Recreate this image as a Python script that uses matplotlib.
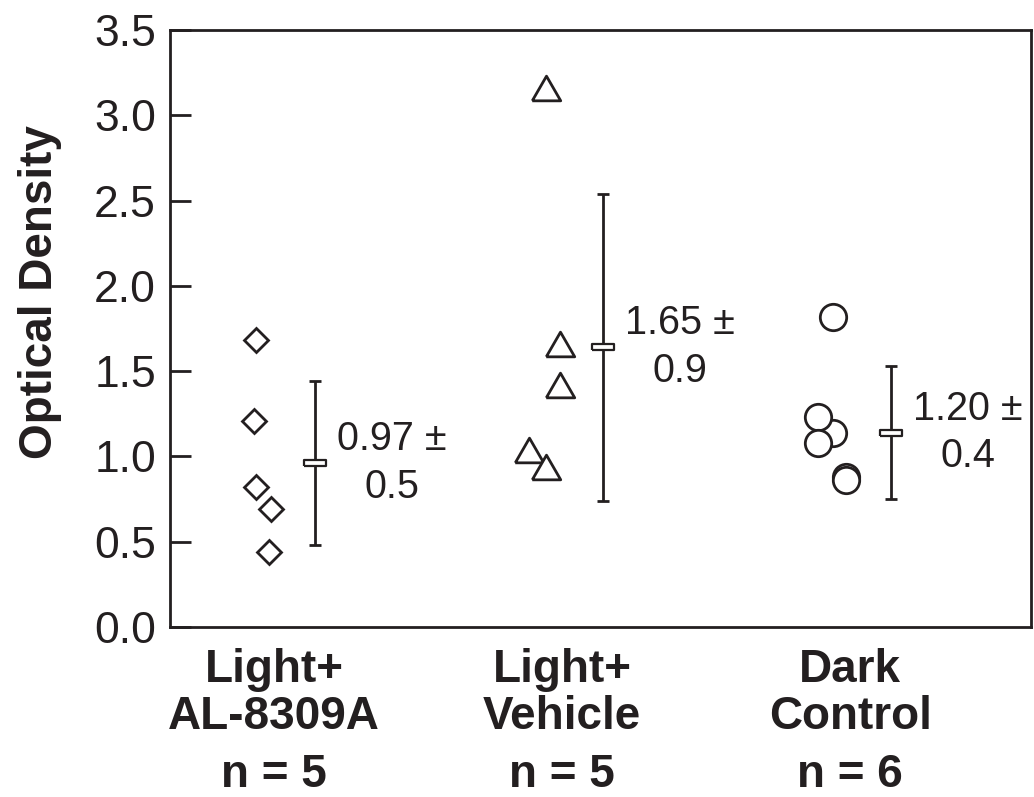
import matplotlib
matplotlib.use('Agg')
import matplotlib.pyplot as plt
import matplotlib.transforms as mtransforms

plt.rcParams['font.family'] = ['Liberation Sans', 'DejaVu Sans']
INK = '#231f20'

# groups along the x axis
groups = ['Light+\nAL-8309A', 'Light+\nVehicle', 'Dark\nControl']
group_n = ['n = 5', 'n = 5', 'n = 6']

# individual optical density readings
al_values = [1.68, 1.21, 0.82, 0.69, 0.44]
vehicle_values = [3.16, 1.66, 1.42, 1.04, 0.94]
dark_values = [1.14, 1.82, 1.23, 1.08, 0.88, 0.86]

# small sideways shift of each point so overlapping ones stay visible
al_jitter = [-0.063, -0.069, -0.063, -0.010, -0.017]
vehicle_jitter = [-0.056, -0.007, -0.007, -0.115, -0.056]
dark_jitter = [-0.059, -0.059, -0.111, -0.111, -0.014, -0.014]

# mean +/- SD as drawn, and the printed values
means = [0.96, 1.64, 1.14]
errs = [0.48, 0.90, 0.39]
mean_labels = ['0.97 ±\n0.5', '1.65 ±\n0.9', '1.20 ±\n0.4']

values = [al_values, vehicle_values, dark_values]
jitters = [al_jitter, vehicle_jitter, dark_jitter]

tri = [(-1, -0.866), (1, -0.866), (0, 0.866), (-1, -0.866)]
markers = [('D', 12), (tri, 20.5), ('o', 19)]
bar_marker = [(-1, -0.28), (1, -0.28), (1, 0.28), (-1, 0.28), (-1, -0.28)]

fig = plt.figure(figsize=(10.34, 7.97), dpi=100)
ax = fig.add_axes([0.1644, 0.2133, 0.8327, 0.7491])

for i in range(len(groups)):
    xc = i + 1
    mk, ms = markers[i]
    for v, j in zip(values[i], jitters[i]):
        ax.plot(xc + j, v, linestyle='none', marker=mk, markersize=ms,
                mfc='white', mec=INK, mew=2.0, zorder=3)
    ax.errorbar(xc + 0.142, means[i], yerr=errs[i], fmt='none', ecolor=INK,
                elinewidth=2, capsize=4, capthick=2, zorder=2)
    ax.plot(xc + 0.142, means[i], linestyle='none', marker=bar_marker,
            markersize=16.5, mfc='white', mec=INK, mew=1.6, zorder=4)
    ax.text(xc + 0.41, means[i], mean_labels[i], ha='center', va='center',
            fontsize=28.5, color=INK, linespacing=1.33)

ax.set_xlim(0.639, 3.628)
ax.set_ylim(0, 3.5)
ax.set_yticks([0, 0.5, 1.0, 1.5, 2.0, 2.5, 3.0, 3.5])
ax.set_yticklabels(['%.1f' % t for t in ax.get_yticks()])
ax.set_xticks([1, 2, 3])
ax.set_xticklabels(groups, fontsize=33, fontweight='bold', linespacing=1.1)

ax.tick_params(axis='y', direction='in', length=15, width=2, labelsize=32,
               pad=10, colors=INK)
ax.tick_params(axis='x', length=0, pad=15, colors=INK)
for s in ax.spines.values():
    s.set_linewidth(2)
    s.set_color(INK)

trans = mtransforms.blended_transform_factory(ax.transData, ax.transAxes)
for i, n in enumerate(group_n):
    ax.text(i + 1, -0.268, n, transform=trans, ha='center', va='baseline',
            fontsize=33, fontweight='bold', color=INK)

ax.set_ylabel('Optical Density', fontsize=33, fontweight='bold', color=INK)
ax.yaxis.set_label_coords(-0.125, 0.561)

fig.savefig('out.png', dpi=100)
